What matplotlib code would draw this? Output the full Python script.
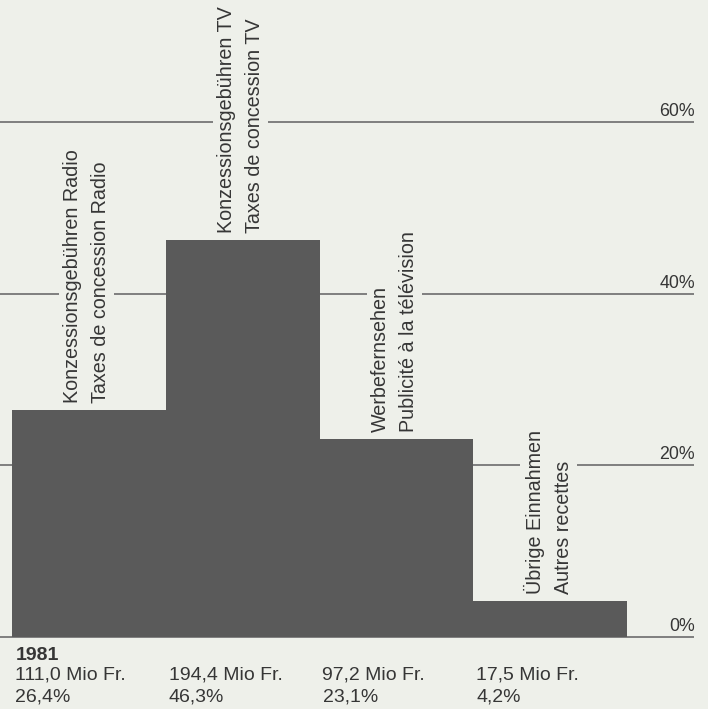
import matplotlib
matplotlib.use("Agg")
import matplotlib.pyplot as plt

# Data (1981 revenue shares)
YEAR = "1981"
LABELS = [
    "Konzessionsgebühren Radio\nTaxes de concession Radio",
    "Konzessionsgebühren TV\nTaxes de concession TV",
    "Werbefernsehen\nPublicité à la télévision",
    "Übrige Einnahmen\nAutres recettes",
]
AMOUNTS = ["111,0 Mio Fr.", "194,4 Mio Fr.", "97,2 Mio Fr.", "17,5 Mio Fr."]
SHARES = [26.4, 46.3, 23.1, 4.2]
SHARE_TEXT = ["26,4%", "46,3%", "23,1%", "4,2%"]
GRID_LEVELS = [0, 20, 40, 60]
GRID_TEXT = ["0%", "20%", "40%", "60%"]

# Style
BG = "#eef0ea"
BAR_COLOR = "#5a5a5a"
LINE_COLOR = "#767676"
TEXT_COLOR = "#363636"

plt.rcParams["font.family"] = ["Liberation Sans", "DejaVu Sans"]

W, H = 708, 709
PX_PER_BAR = 153.75   # pixels per bar width
PX_PER_PCT = 8.583    # pixels per percent
LEFT_PX = 12          # left edge of first bar
BASE_PX = 637         # baseline, from top
GRID_END = -0.5 + (694 - LEFT_PX) / PX_PER_BAR

fig = plt.figure(figsize=(W / 100, H / 100), dpi=100, facecolor=BG)
ax = fig.add_axes([0, 0, 1, 1])
ax.set_facecolor(BG)
ax.axis("off")
ax.set_xlim(-0.5 - LEFT_PX / PX_PER_BAR, -0.5 + (W - LEFT_PX) / PX_PER_BAR)
ax.set_ylim(-(H - BASE_PX) / PX_PER_PCT, BASE_PX / PX_PER_PCT)

xmin = ax.get_xlim()[0]

# Grid lines and right-hand labels
ax.hlines(GRID_LEVELS, xmin, GRID_END, colors=LINE_COLOR, linewidth=1.3, zorder=1)
for lvl, txt in zip(GRID_LEVELS, GRID_TEXT):
    ax.annotate(txt, xy=(GRID_END, lvl), xytext=(1, 6), textcoords="offset pixels",
                ha="right", va="baseline", fontsize=12.8, color=TEXT_COLOR, zorder=4)

# Bars
xs = list(range(len(SHARES)))
ax.bar(xs, SHARES, width=1.0, color=BAR_COLOR, linewidth=0, zorder=2)

# Rotated category labels above bars
for x, v, lab in zip(xs, SHARES, LABELS):
    ax.annotate(lab, xy=(x, v), xytext=(-2, 7), textcoords="offset pixels",
                rotation=90, ha="center", va="bottom", multialignment="left",
                linespacing=1.6, fontsize=14.2, color=TEXT_COLOR, zorder=3,
                bbox=dict(boxstyle="square,pad=0.2", fc=BG, ec="none"))

# Footer text
ax.annotate(YEAR, xy=(-0.5, 0), xytext=(4, -23), textcoords="offset pixels",
            ha="left", va="baseline", fontsize=14, fontweight="bold", color=TEXT_COLOR)
for x, amt, pct in zip(xs, AMOUNTS, SHARE_TEXT):
    ax.annotate(amt, xy=(x - 0.5, 0), xytext=(3, -43), textcoords="offset pixels",
                ha="left", va="baseline", fontsize=14, color=TEXT_COLOR)
    ax.annotate(pct, xy=(x - 0.5, 0), xytext=(3, -65), textcoords="offset pixels",
                ha="left", va="baseline", fontsize=14, color=TEXT_COLOR)

fig.savefig("out.png", dpi=100, facecolor=BG)
